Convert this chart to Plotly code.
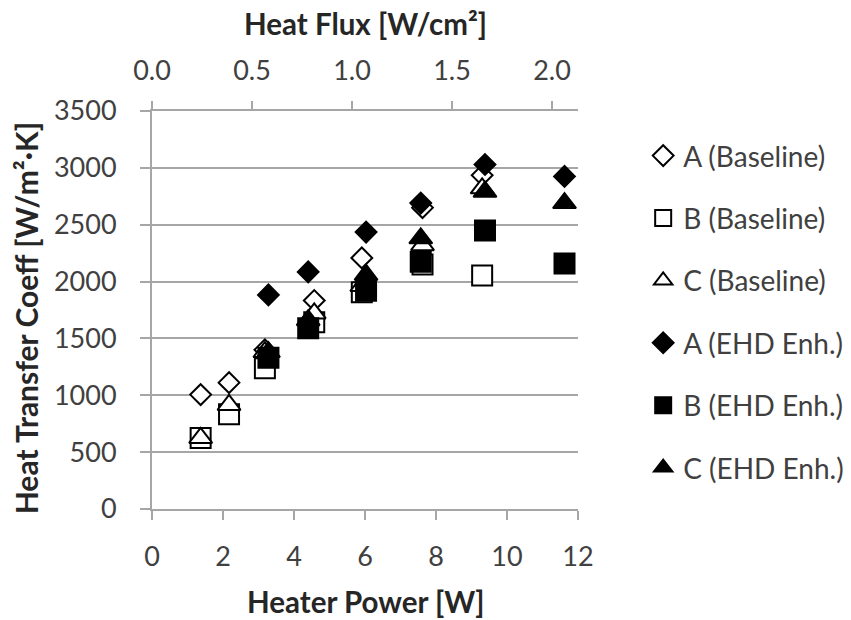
import plotly.graph_objects as go

# ---- data ----
baseline_power = [1.37, 2.17, 3.18, 4.57, 5.91, 7.62, 9.30]
a_baseline = [1006, 1111, 1400, 1833, 2208, 2650, 2935]
b_baseline = [625, 833, 1237, 1643, 1905, 2150, 2053]
c_baseline = [625, 915, 1380, 1720, 1960, 2320, 2820]

ehd_power = [3.28, 4.40, 6.03, 7.57, 9.38, 11.62]
a_ehd = [1883, 2085, 2435, 2690, 3030, 2925]
b_ehd = [1330, 1590, 1920, 2175, 2450, 2160]
c_ehd = [1380, 1660, 2060, 2380, 2790, 2690]

power_per_flux = 5.634  # W per (W/cm^2)
x_ticks = [0, 2, 4, 6, 8, 10, 12]
flux_ticks = [0.0, 0.5, 1.0, 1.5, 2.0]
y_ticks = [0, 500, 1000, 1500, 2000, 2500, 3000, 3500]

FONT = "Lato"
GRID = "#a6a6a6"
TICKC = "#404040"
TITLEC = "#262626"

series = [
    ("A (Baseline)", baseline_power, a_baseline, "diamond", 16, "white"),
    ("B (Baseline)", baseline_power, b_baseline, "square", 20, "white"),
    ("C (Baseline)", baseline_power, c_baseline, "triangle-up", 20, "white"),
    ("A (EHD Enh.)", ehd_power, a_ehd, "diamond", 16, "black"),
    ("B (EHD Enh.)", ehd_power, b_ehd, "square", 20, "black"),
    ("C (EHD Enh.)", ehd_power, c_ehd, "triangle-up", 20, "black"),
]

fig = go.Figure()
for i, (name, xs, ys, sym, size, fill) in enumerate(series):
    fig.add_trace(go.Scatter(
        x=xs, y=ys, mode="markers", name=name, legendgroup=f"g{i}",
        marker=dict(symbol=sym, size=size, color=fill,
                    line=dict(color="black", width=2)),
    ))

# invisible trace to carry the top (heat flux) axis
fig.add_trace(go.Scatter(
    x=[p / power_per_flux for p in baseline_power], y=a_baseline,
    xaxis="x2", mode="markers", marker=dict(opacity=0),
    showlegend=False, hoverinfo="skip",
))

fig.update_layout(
    width=851, height=620,
    margin=dict(l=152, r=273, t=111, b=111, autoexpand=False),
    paper_bgcolor="white", plot_bgcolor="white",
    font=dict(family=FONT, size=27, color=TICKC),
    showlegend=True,
    legend=dict(x=1.153, y=0.95, xanchor="left", yanchor="top",
                font=dict(family=FONT, size=28, color=TICKC),
                traceorder="grouped", tracegroupgap=23,
                bgcolor="rgba(0,0,0,0)"),
    xaxis=dict(range=[0, 12], tickvals=x_ticks, showgrid=False, zeroline=False,
               showline=True, linecolor=GRID, linewidth=2,
               ticks="outside", ticklen=9, tickwidth=2, tickcolor=GRID,
               ticklabelstandoff=14, automargin=False,
               tickfont=dict(family=FONT, size=27, color=TICKC)),
    xaxis2=dict(range=[0, 12 / power_per_flux], overlaying="x", side="top",
                tickvals=flux_ticks, tickformat=".1f", showgrid=False,
                zeroline=False, showline=True, linecolor=GRID, linewidth=2,
                ticks="outside", ticklen=8, tickwidth=2, tickcolor=GRID,
                ticklabelstandoff=10, automargin=False,
                tickfont=dict(family=FONT, size=27, color=TICKC)),
    yaxis=dict(range=[0, 3500], tickvals=y_ticks, showgrid=True,
               gridcolor=GRID, gridwidth=2, zeroline=False,
               showline=True, linecolor=GRID, linewidth=2,
               ticks="outside", ticklen=10, tickwidth=2, tickcolor=GRID,
               ticklabelstandoff=18, automargin=False,
               tickfont=dict(family=FONT, size=27, color=TICKC)),
    annotations=[
        dict(text="<b>Heater Power [W]</b>", xref="paper", yref="paper",
             x=0.5, y=-0.233, xanchor="center", yanchor="middle",
             showarrow=False, font=dict(family=FONT, size=29.5, color=TITLEC)),
        dict(text="<b>Heat Flux [W/cm²]</b>", xref="paper", yref="paper",
             x=0.5, y=1.22, xanchor="center", yanchor="middle",
             showarrow=False, font=dict(family=FONT, size=29.5, color=TITLEC)),
        dict(text="<b>Heat Transfer Coeff [W/m²·K]</b>", xref="paper", yref="paper",
             x=-0.295, y=0.48, xanchor="center", yanchor="middle", textangle=-90,
             showarrow=False, font=dict(family=FONT, size=30, color=TITLEC)),
    ],
)

fig.write_html("out.html")
